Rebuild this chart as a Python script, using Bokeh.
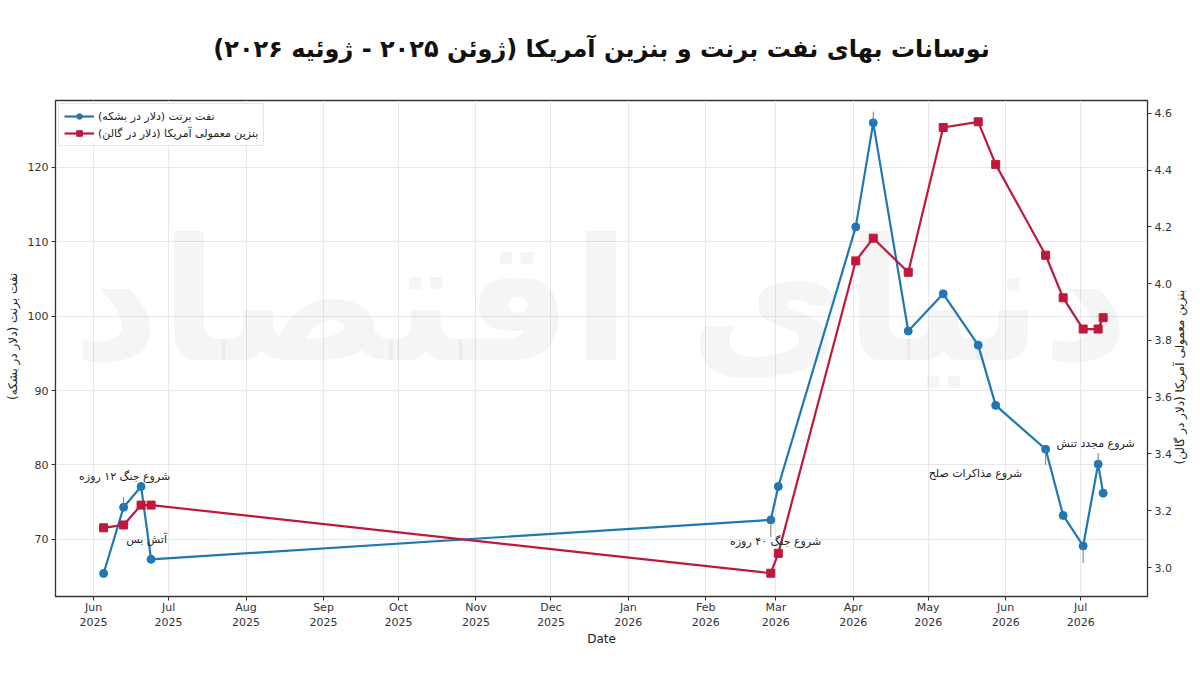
import math
from datetime import datetime
from bokeh.plotting import figure
from bokeh.models import (Range1d, LinearAxis, FixedTicker, DatetimeTickFormatter, Legend,
                          LegendItem, PrintfTickFormatter, Title)
from bokeh.core.properties import value
from bokeh.embed import file_html
from bokeh.resources import INLINE

# ---------------- data ----------------
dates = ["2025-06-05", "2025-06-13", "2025-06-20", "2025-06-24", "2026-02-27", "2026-03-02",
         "2026-04-02", "2026-04-09", "2026-04-23", "2026-05-07", "2026-05-21", "2026-05-28",
         "2026-06-17", "2026-06-24", "2026-07-02", "2026-07-08", "2026-07-10"]
brent = [65.4, 74.3, 77.1, 67.3, 72.6, 77.1, 112.0, 126.0, 98.0, 103.0, 96.1, 88.0,
         82.1, 73.2, 69.1, 80.1, 76.2]
gasoline = [3.14, 3.15, 3.22, 3.22, 2.98, 3.05, 4.08, 4.16, 4.04, 4.55, 4.57, 4.42,
            4.10, 3.95, 3.84, 3.84, 3.88]

tick_months = ["2025-06-01", "2025-07-01", "2025-08-01", "2025-09-01", "2025-10-01", "2025-11-01",
               "2025-12-01", "2026-01-01", "2026-02-01", "2026-03-01", "2026-04-01", "2026-05-01",
               "2026-06-01", "2026-07-01"]
brent_ticks = [70, 80, 90, 100, 110, 120]
gas_ticks = [3.0, 3.2, 3.4, 3.6, 3.8, 4.0, 4.2, 4.4, 4.6]

# annotations: text, text anchor (date, brent-scale value)
ann_texts = ["شروع جنگ ۱۲ روزه", "آتش بس", "شروع جنگ ۴۰ روزه", "شروع مذاکرات صلح", "شروع مجدد تنش"]
ann_text_dates = ["2025-06-13 10:00", "2025-06-22 05:00", "2026-02-28 22:00", "2026-05-19 22:00", "2026-07-07 00:00"]
ann_text_vals = [78.5, 70.0, 69.7, 78.9, 82.9]
# connector stubs: date, from value, to value (brent scale)
stub_dates = ["2025-06-13", "2026-02-27", "2026-06-17", "2026-07-08", "2026-04-09", "2026-07-02"]
stub_from = [74.3, 72.6, 82.1, 80.1, 126.0, 69.1]
stub_to = [75.7, 70.3, 80.0, 81.6, 127.5, 66.8]

title_text = "نوسانات بهای نفت برنت و بنزین آمریکا (ژوئن ۲۰۲۵ - ژوئیه ۲۰۲۶)"
brent_label = "نفت برنت (دلار در بشکه)"
gas_label = "بنزین معمولی آمریکا (دلار در گالن)"
x_label = "Date"
watermark = "دنیای اقتصاد"

# ---------------- helpers ----------------
def d(s):
    return datetime.fromisoformat(s)

x = [d(s) for s in dates]
BLUE = "#1f77b4"
RED = "#c0173c"
FONT = "DejaVu Sans"
EM = "\u2003"

p = figure(width=1200, height=685, x_axis_type="datetime",
           x_range=Range1d(datetime(2025, 5, 16, 18), datetime(2026, 7, 27, 18)),
           y_range=Range1d(62.3, 129.0), title_location=None,
           output_backend="svg", toolbar_location=None,
           min_border_left=55, min_border_right=53, min_border_top=100, min_border_bottom=89)

p.extra_y_ranges = {"gas": Range1d(2.898, 4.645)}

# title (spacer first = closest to the frame, then the real title)
p.add_layout(Title(text=" ", text_font=FONT, text_font_size="18px"), "above")
p.add_layout(Title(text=title_text, align="center", text_font=FONT, text_font_size="24px",
                   text_font_style="bold", text_color="#111111"), "above")

# frame / grid
p.outline_line_color = "#333333"
p.outline_line_width = 1.3
p.background_fill_color = "white"
p.border_fill_color = "white"
p.xgrid.grid_line_color = "#e8e8e8"
p.ygrid.grid_line_color = "#e8e8e8"
p.xgrid.ticker = FixedTicker(ticks=[d(s).timestamp() * 1000 for s in tick_months])
p.ygrid.ticker = FixedTicker(ticks=brent_ticks)

# watermark
p.text(x=[datetime(2025, 12, 21)], y=[102.0], text=[watermark], text_font=value(FONT),
       text_font_size="170px", text_font_style="bold", text_color="#000000", text_alpha=0.04,
       text_align="center", text_baseline="middle")

# x axis
xa = p.xaxis[0]
xa.ticker = FixedTicker(ticks=[d(s).timestamp() * 1000 for s in tick_months])
fmt = "%b\n%Y"
xa.formatter = DatetimeTickFormatter(months=fmt, days=fmt, years=fmt, hours=fmt, minutes=fmt,
                                     seconds=fmt, milliseconds=fmt, microseconds=fmt, minsec=fmt,
                                     hourmin=fmt)
xa.axis_label = x_label

# left axis
ya = p.yaxis[0]
ya.ticker = FixedTicker(ticks=brent_ticks)
ya.axis_label = EM * 2 + brent_label

# right axis
ra = LinearAxis(y_range_name="gas", ticker=FixedTicker(ticks=gas_ticks),
                axis_label=EM * 11 + gas_label,
                formatter=PrintfTickFormatter(format="%.1f"))
p.add_layout(ra, "right")

for ax in [xa, ya, ra]:
    ax.major_label_text_font = FONT
    ax.major_label_text_font_size = "11px"
    ax.major_label_text_color = "#333333"
    ax.axis_label_text_font = FONT
    ax.axis_label_text_font_size = "12px"
    ax.axis_label_text_font_style = "normal"
    ax.axis_label_text_color = "#222222"
    ax.axis_line_color = "#333333"
    ax.major_tick_line_color = "#333333"
    ax.major_tick_out = 4
    ax.major_tick_in = 0
    ax.minor_tick_line_color = None
    ax.major_label_standoff = 3
    ax.axis_label_standoff = 5
xa.major_label_standoff = 0
xa.axis_label_standoff = 0
ra.axis_label_orientation = math.pi / 2
ra.axis_label_align = "start"

# series
bl = p.line(x, brent, line_color=BLUE, line_width=2.2)
bs = p.scatter(x, brent, marker="circle", size=8, fill_color=BLUE, line_color=BLUE)
gl = p.line(x, gasoline, line_color=RED, line_width=2.2, y_range_name="gas")
gs = p.scatter(x, gasoline, marker="square", size=8, fill_color=RED, line_color=RED, y_range_name="gas")

# annotation stubs
p.segment(x0=[d(s) for s in stub_dates], y0=stub_from, x1=[d(s) for s in stub_dates], y1=stub_to,
          line_color="#777777", line_width=1)

# annotation texts
p.text(x=[d(s) for s in ann_text_dates], y=ann_text_vals, text=ann_texts, text_font=value(FONT),
       text_font_size="11px", text_color="#222222", text_align="center", text_baseline="middle")

legend = Legend(items=[LegendItem(label=brent_label, renderers=[bl, bs]),
                       LegendItem(label=gas_label, renderers=[gl, gs])],
                location="top_left")
legend.label_text_font = FONT
legend.label_text_font_size = "11px"
legend.label_text_color = "#222222"
legend.border_line_color = "#cccccc"
legend.background_fill_alpha = 0.9
legend.glyph_width = 30
legend.glyph_height = 14
legend.label_height = 14
legend.spacing = 3
legend.padding = 5
legend.margin = 3
legend.label_standoff = 4
p.add_layout(legend)

open("out.html", "w").write(file_html(p, INLINE))
